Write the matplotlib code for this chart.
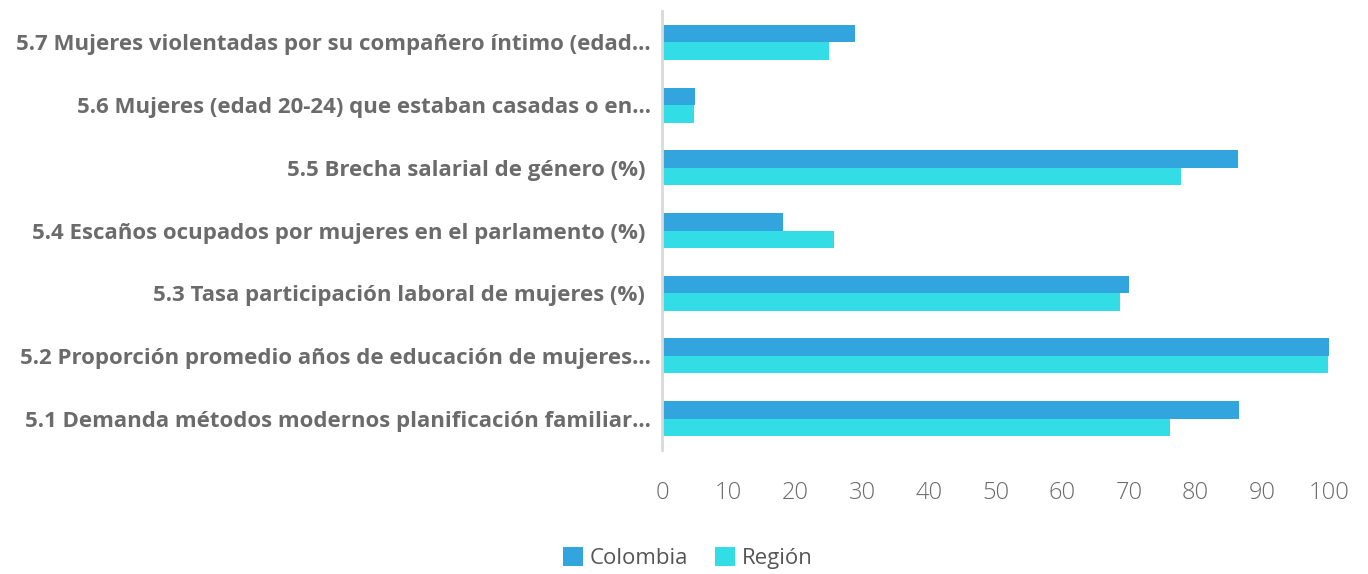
import numpy as np
import matplotlib
matplotlib.use("Agg")
import matplotlib.pyplot as plt

categorias = [
    "5.1 Demanda métodos modernos planificación familiar...",
    "5.2 Proporción promedio años de educación de mujeres...",
    "5.3 Tasa participación laboral de mujeres (%) ",
    "5.4 Escaños ocupados por mujeres en el parlamento (%) ",
    "5.5 Brecha salarial de género (%) ",
    "5.6 Mujeres (edad 20-24) que estaban casadas o en...",
    "5.7 Mujeres violentadas por su compañero íntimo (edad...",
]
colombia = [86.5, 100.3, 70.0, 18.2, 86.3, 5.0, 29.0]
region = [76.2, 99.8, 68.6, 25.8, 77.8, 4.8, 25.0]
ticks = list(range(0, 101, 10))

c_col = "#33a5de"
c_reg = "#33dde6"

fig = plt.figure(figsize=(13.68, 5.74), dpi=100)
ax = fig.add_axes([662 / 1368, 1 - 450 / 574, (1329 - 662) / 1368, 439 / 574])

y = np.arange(len(categorias))
h = 0.28
ax.barh(y + h / 2, colombia, height=h, color=c_col, label="Colombia")
ax.barh(y - h / 2, region, height=h, color=c_reg, label="Región")

ax.set_xlim(0, 100)
ax.set_ylim(-0.5, 6.5)
ax.set_yticks(y)
ax.set_yticklabels(categorias, fontsize=16, fontweight="bold", color="#6b6b6b",
                   family="Open Sans")
ax.set_xticks(ticks)
ax.set_xticklabels([str(t) for t in ticks], fontsize=17, color="#6b6b6b",
                   family="Open Sans", fontweight="light")
ax.tick_params(axis="y", length=0, pad=8)
ax.tick_params(axis="x", length=0, pad=22)

for s in ["top", "right", "bottom"]:
    ax.spines[s].set_visible(False)
ax.spines["left"].set_color("#d9d9d9")
ax.spines["left"].set_linewidth(2)

leg = fig.legend(loc="center", bbox_to_anchor=(688 / 1368, 1 - 558 / 574), ncol=2,
                 frameon=False, handlelength=0.9, handleheight=0.9, handletextpad=0.3,
                 columnspacing=1.2, prop={"family": "Open Sans", "size": 16})
for t in leg.get_texts():
    t.set_color("#555555")

fig.savefig("out.png", dpi=100)
